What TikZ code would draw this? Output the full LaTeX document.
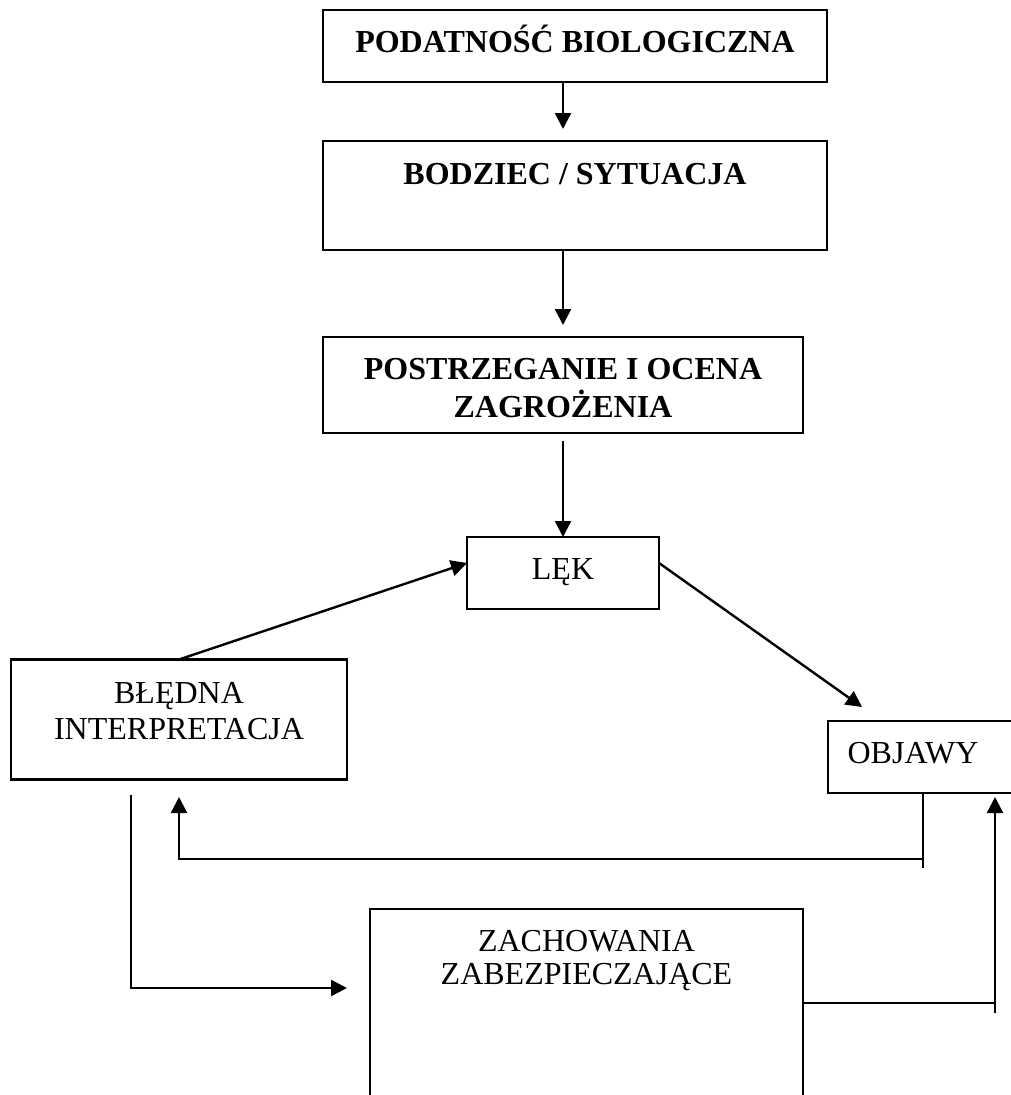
\documentclass[tikz,border=0pt]{standalone}
\usepackage{fontspec}
\setmainfont{Liberation Serif}
\usetikzlibrary{arrows.meta,calc}

\begin{document}
\begin{tikzpicture}[x=1pt,y=-1pt,
  box/.style={draw,line width=2.4pt,inner sep=0pt,outer sep=0pt},
  lbl/.style={anchor=base,inner sep=0pt,font=\fontsize{32}{37}\selectfont},
  blbl/.style={lbl,font=\fontsize{32}{37}\selectfont\bfseries},
  link/.style={line width=2.4pt},
  arr/.style={link,-{Triangle[length=16pt,width=16pt]}}]

\useasboundingbox (0,0) rectangle (1011,1095);
\clip (0,0) rectangle (1011,1095);

% boxes
\node[box,minimum width=504pt,minimum height=72pt]  (b1)   at (575,46) {};
\node[box,minimum width=504pt,minimum height=109pt] (b2)   at (575,195.5) {};
\node[box,minimum width=480pt,minimum height=96pt]  (b3)   at (563,385) {};
\node[box,minimum width=192pt,minimum height=72pt]  (lek)  at (563,573) {};
\node[box,minimum width=336pt,minimum height=120pt] (bled) at (179,719.5) {};
\node[box,minimum width=212pt,minimum height=72pt]  (obj)  at (934,757) {};
\node[box,minimum width=433pt,minimum height=221pt] (zach) at (586.5,1019.5) {};

% labels
\node[blbl] (t1)  at (575,52)  {PODATNOŚĆ BIOLOGICZNA};
\node[blbl] (t2)  at (575,184) {BODZIEC / SYTUACJA};
\node[blbl] (t3a) at (563,379) {POSTRZEGANIE I OCENA};
\node[blbl] (t3b) at (563,417) {ZAGROŻENIA};
\node[lbl]  (t4)  at (563,579) {LĘK};
\node[lbl]  (t5a) at (179,703) {BŁĘDNA};
\node[lbl]  (t5b) at (179,739) {INTERPRETACJA};
\node[lbl]  (t6)  at (913,763) {OBJAWY};
\node[lbl]  (t7a) at (586.5,951) {ZACHOWANIA};
\node[lbl]  (t7b) at (586.5,984) {ZABEZPIECZAJĄCE};

% connector end points
\coordinate (a1e) at ($(b2.north -| lek.north)+(0,-12)$);
\coordinate (a2e) at ($(b3.north -| lek.north)+(0,-12)$);
\coordinate (a3s) at ($(b3.south -| lek.north)+(0,8)$);
\coordinate (lekL) at ($(lek.west)+(0,-10)$);
\coordinate (lekR) at ($(lek.east)+(0,-10)$);
\coordinate (objT) at (862,707);

\coordinate (fbA) at (923,793);
\coordinate (fbB) at (923,868);
\coordinate (fbC) at (923,859);
\coordinate (fbD) at (179,859);
\coordinate (fbE) at (179,797);

\coordinate (lpA) at (131,795);
\coordinate (lpB) at (131,988);
\coordinate (lpC) at (347,988);

\coordinate (rpA) at (803,1003);
\coordinate (rpB) at (995,1003);
\coordinate (rpC) at (995,1013);
\coordinate (rpD) at (995,797);

% main chain
\draw[arr] (b1.south -| lek.north) -- (a1e);
\draw[arr] (b2.south -| lek.north) -- (a2e);
\draw[arr] (a3s) -- (lek.north);

% loop around LĘK
\draw[arr] (bled.north) -- (lekL);
\draw[arr] (lekR) -- (objT);

% feedback from OBJAWY to BŁĘDNA INTERPRETACJA
\draw[link] (fbA) -- (fbB);
\draw[arr] (fbC) -- (fbD) -- (fbE);

% from BŁĘDNA INTERPRETACJA to ZACHOWANIA
\draw[arr] (lpA) -- (lpB) -- (lpC);

% from ZACHOWANIA back up to OBJAWY
\draw[link] (rpA) -- (rpB);
\draw[arr] (rpC) -- (rpD);
\end{tikzpicture}
\end{document}
